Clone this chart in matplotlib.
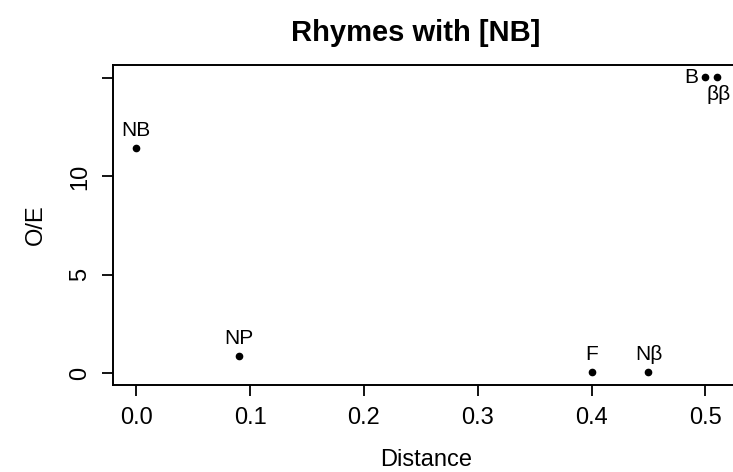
import matplotlib
matplotlib.use("Agg")
import matplotlib.pyplot as plt

plt.rcParams['font.family'] = ['Liberation Sans', 'DejaVu Sans']

labels = ["NB", "NP", "F", "N\u03b2", "B", "\u03b2\u03b2"]
distance = [0.0, 0.09, 0.40, 0.45, 0.50, 0.51]
oe = [11.45, 0.85, 0.05, 0.05, 15.05, 15.05]
# label placement relative to point: (dx, dy) in pixels, ha, va
placement = [(0, 8, 'center', 'bottom'),
             (0, 8, 'center', 'bottom'),
             (0, 8, 'center', 'bottom'),
             (0, 8, 'center', 'bottom'),
             (-7, 0, 'right', 'center'),
             (2, -8, 'center', 'top')]

xticks = [0.0, 0.1, 0.2, 0.3, 0.4, 0.5]
xticklabels = ["0.0", "0.1", "0.2", "0.3", "0.4", "0.5"]
yticks = [0, 5, 10, 15]
yticklabels = ["0", "5", "10", ""]

fig = plt.figure(figsize=(7.33, 4.72), dpi=100)
ax = fig.add_axes([113/733, 1-385/472, (740-113)/733, (385-65)/472])
ax.plot(distance, oe, 'o', color='black', markersize=4.5, clip_on=False)
for lab, x, y, (dx, dy, ha, va) in zip(labels, distance, oe, placement):
    ax.annotate(lab, (x, y), xytext=(dx, dy), textcoords='offset pixels',
                ha=ha, va=va, fontsize=15, color='black', annotation_clip=False)

ax.set_xlim(-0.0204, 0.5304)
ax.set_ylim(-0.6, 15.66)
ax.set_xticks(xticks)
ax.set_xticklabels(xticklabels, fontsize=17)
ax.set_yticks(yticks)
ax.set_yticklabels(yticklabels, fontsize=17, rotation=90, va='center')
ax.tick_params(axis='both', direction='out', length=8, width=1.3, pad=8, color='black')
for s in ax.spines.values():
    s.set_linewidth(1.4)
ax.set_xlabel("Distance", fontsize=17, labelpad=14)
ax.set_ylabel("O/E", fontsize=17, labelpad=16)
fig.text(416/733, 1-33/472, "Rhymes with [NB]", ha='center', va='center',
         fontsize=21, fontweight='bold')

fig.savefig("out.png", dpi=100)
